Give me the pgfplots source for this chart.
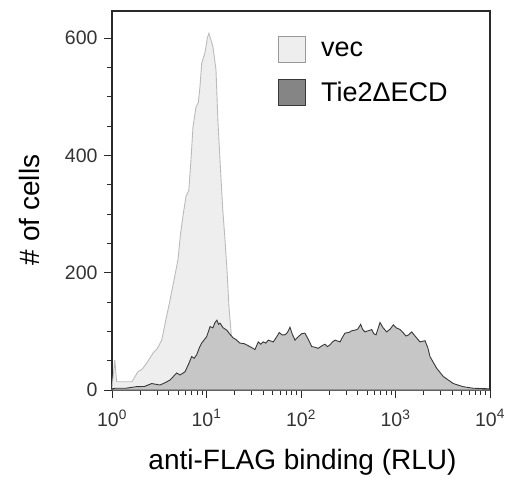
\documentclass[border=0pt]{standalone}
\usepackage{fontspec}
\setmainfont{Liberation Sans}
\usepackage{pgfplots}
\pgfplotsset{compat=1.18}

\definecolor{vecfill}{HTML}{EEEEEE}
\definecolor{vecline}{HTML}{BBBBBB}
\definecolor{tiefill}{HTML}{C6C6C6}
\definecolor{tieline}{HTML}{383838}
\definecolor{tieleg}{HTML}{858585}
\definecolor{vecleg}{HTML}{999999}
\definecolor{axcol}{HTML}{2A2A2A}

\begin{document}
\begin{tikzpicture}
\useasboundingbox (-112pt,-92pt) rectangle (397pt,390pt);
\begin{axis}[
  scale only axis,
  width=378pt, height=379pt,
  xmode=log,
  xmin=1, xmax=10000,
  ymin=0, ymax=646,
  axis line style={axcol, line width=1.1pt},
  every tick/.style={axcol, line width=0.9pt},
  tick align=outside,
  xtick pos=bottom, ytick pos=left,
  major tick length=8pt, minor tick length=5pt,
  xtick={1,10,100,1000,10000},
  xticklabels={10\textsuperscript{0},10\textsuperscript{1},10\textsuperscript{2},10\textsuperscript{3},10\textsuperscript{4}},
  ytick={0,200,400,600},
  minor ytick={50,100,150,250,300,350,450,500,550},
  /pgf/number format/assume math mode=true,
  tick label style={font=\fontsize{19.5}{22}\selectfont, text=black!80},
  xticklabel style={yshift=-8pt},
  yticklabel style={xshift=-3pt},
  xlabel={anti-FLAG binding (RLU)},
  ylabel={\# of cells},
  label style={font=\fontsize{28}{32}\selectfont},
  xlabel style={at={(axis description cs:0.504,-0.19)}, anchor=center},
  ylabel style={at={(axis description cs:-0.217,0.475)}, anchor=center},
  legend style={at={(axis description cs:0.439,0.934)}, anchor=north west,
    draw=none, fill=none, inner sep=0pt, row sep=16pt,
    nodes={inner sep=0pt},
    /tikz/every odd column/.append style={column sep=15pt},
    font=\fontsize{27}{30}\selectfont},
  legend cell align=left,
]
% vec
\addplot[fill=vecfill, draw=vecline, line width=0.9pt, forget plot] coordinates {
(1.00,2) (1.07,51) (1.12,14) (1.62,14) (1.88,31) (2.10,36) (2.33,46) (2.72,63)
(3.00,70) (3.36,85) (3.70,118) (4.11,153) (4.50,185) (4.99,222) (5.33,268) (5.70,302) (6.07,330)
(6.50,340) (6.85,392) (7.19,448) (7.74,482) (8.20,490) (8.53,517) (8.90,557) (9.64,575)
(10.2,600) (10.6,608) (11.0,600) (11.7,585) (12.6,546) (13.2,460)
(13.9,392) (14.8,312) (15.7,256) (16.4,210) (17.3,141) (18.5,85)
(20.5,34) (25.5,8) (37,2) (100,0) (10000,0)
} \closedcycle;
% Tie2 dECD
\addplot[fill=tiefill, draw=tieline, line width=0.9pt, forget plot] coordinates {
(1.00,2) (1.08,3) (1.40,3) (1.82,5.7) (2.20,6) (2.63,11) (3.22,8.5) (3.60,12)
(4.11,17) (4.84,29) (5.25,25.6) (5.92,31) (6.50,45) (6.97,57) (7.40,54) (7.87,60)
(8.40,72) (8.90,80) (10.05,91) (10.5,100) (10.9,108) (11.7,106) (12.3,115) (12.9,119) (13.4,112) (13.9,114)
(15.0,106) (16.4,102) (17.5,96) (19.1,89) (20.5,86) (22.6,80) (25.0,79) (28.8,74) (32.6,69) (35.3,82)
(37.5,78) (39.9,82) (42.5,80) (45.1,85) (50.9,82) (55.0,90) (58.9,98) (63.0,94) (67.7,94) (72.0,98) (76.5,107)
(81.0,95) (86.4,85) (95.0,92) (102,96) (110,97) (118,88) (130,74) (140,73) (152,71) (165,75) (179,78) (190,74) (203,77) (215,82) (229,85)
(259,82) (275,90) (292,97) (320,98) (345,101) (373,102) (400,104) (428,112) (450,103) (476,99) (515,101) (560,103) (590,96) (622,94)
(686,115) (740,106) (807,99) (880,104) (948,111) (1020,106) (1117,103) (1200,98) (1292,92) (1380,94) (1484,99)
(1650,90) (1816,82) (2051,84) (2200,72) (2317,57) (2729,37) (3207,23) (4091,11)
(5212,5.6) (6653,3) (10000,2)
} \closedcycle;
\addlegendimage{legend image code/.code={\draw[fill=vecfill, draw=vecleg, line width=0.9pt] (0pt,-13pt) rectangle (27pt,13pt);}}
\addlegendentry{vec}
\addlegendimage{legend image code/.code={\draw[fill=tieleg, draw=tieline, line width=0.9pt] (0pt,-13pt) rectangle (27pt,13pt);}}
\addlegendentry{Tie2ΔECD}
\end{axis}
\end{tikzpicture}
\end{document}
